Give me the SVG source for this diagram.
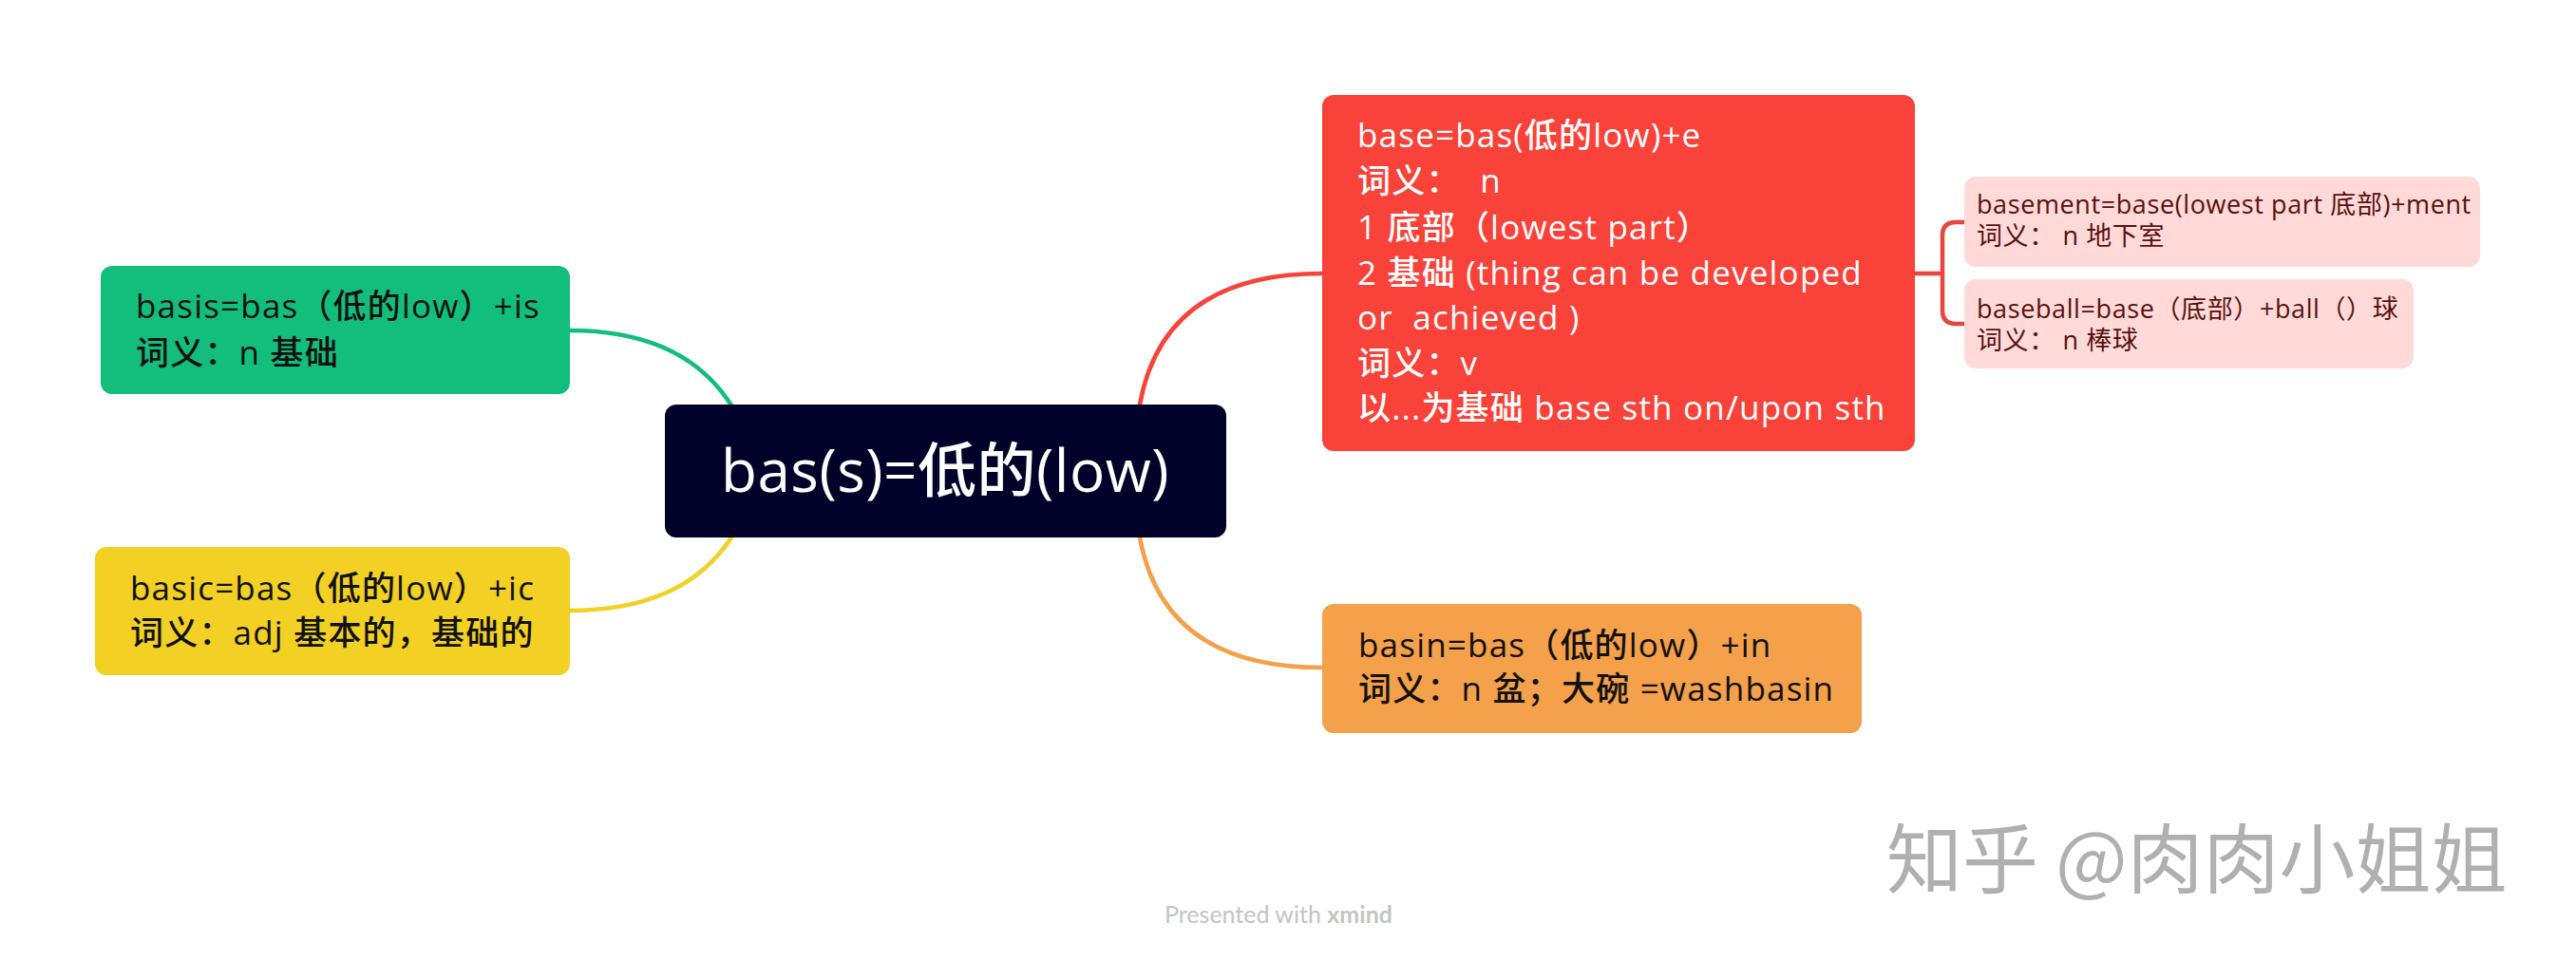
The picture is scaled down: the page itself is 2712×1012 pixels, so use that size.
<svg xmlns="http://www.w3.org/2000/svg" width="2712" height="1012" viewBox="0 0 2712 1012">
<style>
.t{font-family:"Open Sans","Noto Sans CJK SC",sans-serif;font-size:35px;font-weight:500;letter-spacing:1.2px;white-space:pre}
.dark{fill:#111}
.wht{fill:#fff}
.sub{font-family:"Open Sans","Noto Sans CJK SC",sans-serif;font-size:27px;letter-spacing:0.6px;fill:#5a1010;white-space:pre}
.ln{fill:none;stroke-width:4.5;stroke-linecap:round}
</style>
<rect width="2712" height="1012" fill="#fff"/>
<g id="connectors">
<path class="ln" stroke="#13BE7D" d="M600,348 Q720,348 770,427"/>
<path class="ln" stroke="#F2D024" d="M600,643 Q720,643 770,566"/>
<path class="ln" stroke="#F9423A" d="M1200,426 Q1225,288 1392,288"/>
<path class="ln" stroke="#F5A04A" d="M1200,566 Q1225,703 1392,703"/>
<path class="ln" stroke="#E8453C" stroke-width="4" d="M2016,288 H2045"/>
<path class="ln" stroke="#E8453C" stroke-width="4" d="M2068,234 H2059 Q2045,234 2045,248 V327 Q2045,341 2059,341 H2068"/>
</g>
<g id="center">
<rect x="700" y="426" width="591" height="140" rx="12" fill="#000229"/>
<text x="995" y="518" text-anchor="middle" class="wht" style="font-family:'Open Sans','Noto Sans CJK SC',sans-serif;font-size:62px;font-weight:500;letter-spacing:0.5px">bas(s)=低的(low)</text>
</g>
<g id="basis">
<rect x="106" y="280" width="494" height="135" rx="12" fill="#13BE7D"/>
<text class="t dark" x="143" y="335">basis=bas（低的low）+is</text>
<text class="t dark" x="143" y="384">词义：n 基础</text>
</g>
<g id="basic">
<rect x="100" y="576" width="500" height="135" rx="12" fill="#F2D024"/>
<text class="t dark" x="137" y="632">basic=bas（低的low）+ic</text>
<text class="t dark" x="137" y="679">词义：adj 基本的，基础的</text>
</g>
<g id="base">
<rect x="1392" y="100" width="624" height="375" rx="12" fill="#F9423A"/>
<text class="t wht" x="1429" y="155">base=bas(低的low)+e</text>
<text class="t wht" x="1429" y="203">词义：  n</text>
<text class="t wht" x="1429" y="252">1 底部（lowest part）</text>
<text class="t wht" x="1429" y="300">2 基础 (thing can be developed</text>
<text class="t wht" x="1429" y="347">or  achieved )</text>
<text class="t wht" x="1429" y="395">词义：v</text>
<text class="t wht" x="1429" y="442">以...为基础 base sth on/upon sth</text>
</g>
<g id="basement">
<rect x="2068" y="186" width="543" height="95" rx="12" fill="#FFDAD8"/>
<text class="sub" x="2081" y="225">basement=base(lowest part 底部)+ment</text>
<text class="sub" x="2081" y="258">词义： n 地下室</text>
</g>
<g id="baseball">
<rect x="2068" y="294" width="473" height="94" rx="12" fill="#FFDAD8"/>
<text class="sub" x="2081" y="335">baseball=base（底部）+ball（）球</text>
<text class="sub" x="2081" y="368">词义： n 棒球</text>
</g>
<g id="basin">
<rect x="1392" y="636" width="568" height="136" rx="12" fill="#F5A04A"/>
<text class="t dark" x="1430" y="692">basin=bas（低的low）+in</text>
<text class="t dark" x="1430" y="738">词义：n 盆；大碗 =washbasin</text>
</g>
<text x="1986" y="934" style="font-family:'Noto Sans CJK SC',sans-serif;font-size:80px" fill="#b0b0b0">知乎 @肉肉小姐姐</text>
<text x="1226" y="972" style="font-family:Lato,sans-serif;font-size:25px" fill="#c4c4c4">Presented with <tspan font-weight="bold">xmind</tspan></text>
</svg>
